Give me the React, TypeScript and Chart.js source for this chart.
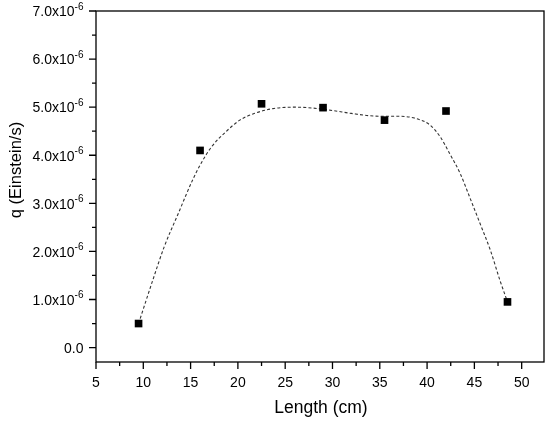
import { useEffect, useRef } from "react"
import { Chart, registerables, type ChartConfiguration, type Plugin } from "chart.js"

Chart.register(...registerables)

// measured points
const lengthCm = [9.5, 16, 22.5, 29, 35.5, 42, 48.5]
const qValues = [0.5e-6, 4.1e-6, 5.07e-6, 4.99e-6, 4.73e-6, 4.92e-6, 0.95e-6]

// dashed fit curve
const fitX = [
  9.5, 11.0, 12.2, 13.7, 15.2, 16.1, 17.2, 18.9, 20.2, 21.6, 23.7, 26, 28, 30, 32, 34, 36, 37.1, 38.9,
  40.3, 41.4, 42.4, 43.5, 44.5, 45.6, 46.7, 47.7, 48.5,
]
const fitY = [
  0.5e-6, 1.4e-6, 2.09e-6, 2.79e-6, 3.48e-6, 3.83e-6, 4.17e-6, 4.52e-6, 4.73e-6, 4.86e-6, 4.97e-6,
  5.0e-6, 4.98e-6, 4.93e-6, 4.87e-6, 4.82e-6, 4.81e-6, 4.81e-6, 4.76e-6, 4.63e-6, 4.38e-6, 4.03e-6,
  3.62e-6, 3.13e-6, 2.58e-6, 2.02e-6, 1.4e-6, 0.95e-6,
]

const xTicks = [5, 10, 15, 20, 25, 30, 35, 40, 45, 50]
const yTicks = [0, 1e-6, 2e-6, 3e-6, 4e-6, 5e-6, 6e-6, 7e-6]
const yTickLabels = ["0.0", "1.0x10", "2.0x10", "3.0x10", "4.0x10", "5.0x10", "6.0x10", "7.0x10"]

const FONT = '"Liberation Sans", Arial, sans-serif'

const axesPlugin: Plugin = {
  id: "originAxes",
  afterDraw(chart) {
    const { ctx, chartArea } = chart
    const xs = chart.scales.x
    const ys = chart.scales.y
    const { left, right, top, bottom } = chartArea

    ctx.save()
    ctx.strokeStyle = "#000"
    ctx.fillStyle = "#000"
    ctx.lineWidth = 1.3
    ctx.strokeRect(left, top, right - left, bottom - top)

    // x ticks
    ctx.beginPath()
    xTicks.forEach((t) => {
      const px = xs.getPixelForValue(t)
      ctx.moveTo(px, bottom)
      ctx.lineTo(px, bottom + 7)
      const mid = t + 2.5
      if (mid < xs.max) {
        const mx = xs.getPixelForValue(mid)
        ctx.moveTo(mx, bottom)
        ctx.lineTo(mx, bottom + 4)
      }
    })
    // y ticks
    yTicks.forEach((t, i) => {
      const py = ys.getPixelForValue(t)
      ctx.moveTo(left, py)
      ctx.lineTo(left - 7, py)
      if (i < yTicks.length - 1) {
        const my = ys.getPixelForValue(t + 0.5e-6)
        ctx.moveTo(left, my)
        ctx.lineTo(left - 4, my)
      }
    })
    ctx.stroke()

    // x tick labels
    ctx.font = `14px ${FONT}`
    ctx.textAlign = "center"
    ctx.textBaseline = "alphabetic"
    xTicks.forEach((t) => {
      ctx.fillText(String(t), xs.getPixelForValue(t), bottom + 25)
    })

    // y tick labels with superscript exponent
    yTicks.forEach((t, i) => {
      const py = ys.getPixelForValue(t) + 5.3
      const labelRight = left - 12.5
      if (i === 0) {
        ctx.font = `14px ${FONT}`
        ctx.textAlign = "right"
        ctx.fillText(yTickLabels[i], labelRight, py)
        return
      }
      ctx.font = `10px ${FONT}`
      const expW = ctx.measureText("-6").width
      ctx.textAlign = "right"
      ctx.fillText("-6", labelRight, py - 6.6)
      ctx.font = `14px ${FONT}`
      ctx.fillText(yTickLabels[i], labelRight - expW, py)
    })

    // axis titles
    ctx.font = `17.5px ${FONT}`
    ctx.textAlign = "center"
    ctx.fillText("Length (cm)", (left + right) / 2 + 1, 412.5)

    ctx.translate(21, 170)
    ctx.rotate(-Math.PI / 2)
    ctx.font = `16.5px ${FONT}`
    ctx.fillText("q (Einstein/s)", 0, 0)
    ctx.restore()
  },
}

export default function App() {
  const canvasRef = useRef<HTMLCanvasElement>(null)
  const chartRef = useRef<Chart | null>(null)

  useEffect(() => {
    if (!canvasRef.current) return
    if (chartRef.current) chartRef.current.destroy()

    const config: ChartConfiguration = {
      type: "scatter",
      data: {
        datasets: [
          {
            label: "q",
            data: lengthCm.map((x, i) => ({ x, y: qValues[i] })),
            pointStyle: "rect",
            pointRadius: 5.4,
            backgroundColor: "#000",
            borderColor: "#000",
            borderWidth: 0,
          },
          {
            label: "fit",
            data: fitX.map((x, i) => ({ x, y: fitY[i] })),
            showLine: true,
            pointRadius: 0,
            borderColor: "#333",
            borderWidth: 1.1,
            borderDash: [3, 2.2],
            cubicInterpolationMode: "monotone",
            fill: false,
          },
        ],
      },
      options: {
        animation: false,
        responsive: true,
        maintainAspectRatio: false,
        layout: { padding: { left: 96, right: 6, top: 11, bottom: 59 } },
        scales: {
          x: { type: "linear", min: 5, max: 52.36, display: false },
          y: { type: "linear", min: -0.3e-6, max: 7.0e-6, display: false },
        },
        plugins: {
          legend: { display: false },
          tooltip: { enabled: false },
        },
      },
      plugins: [axesPlugin],
    }

    chartRef.current = new Chart(canvasRef.current, config)
    return () => {
      chartRef.current?.destroy()
      chartRef.current = null
    }
  }, [])

  return (
    <div style={{ position: "fixed", left: 0, top: 0, width: 550, height: 421, background: "#fff" }}>
      <canvas ref={canvasRef} />
    </div>
  )
}
